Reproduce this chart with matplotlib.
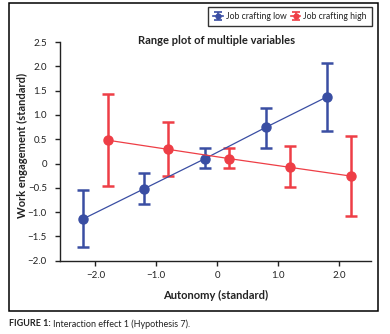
import matplotlib
matplotlib.use("Agg")
import matplotlib.pyplot as plt
from matplotlib.patches import Rectangle
from matplotlib.ticker import FixedLocator, FuncFormatter

plt.rcParams['font.family'] = ['Lato', 'DejaVu Sans']

# Data
x_low = [-2.2, -1.2, -0.2, 0.8, 1.8]
y_low = [-1.14, -0.52, 0.10, 0.745, 1.37]
low_upper = [-0.55, -0.19, 0.32, 1.14, 2.07]
low_lower = [-1.71, -0.83, -0.10, 0.32, 0.66]

x_high = [-1.8, -0.8, 0.2, 1.2, 2.2]
y_high = [0.48, 0.29, 0.10, -0.08, -0.26]
high_upper = [1.44, 0.85, 0.32, 0.35, 0.57]
high_lower = [-0.46, -0.25, -0.10, -0.48, -1.07]

xticks = [-2.0, -1.0, 0.0, 1.0, 2.0]
yticks = [-2.0, -1.5, -1.0, -0.5, 0.0, 0.5, 1.0, 1.5, 2.0, 2.5]
labels = ['Job crafting low', 'Job crafting high']

BLUE = '#3a4ea3'
RED = '#ee3e46'
DARK = '#222222'

W, H = 390, 334
fig = plt.figure(figsize=(W / 100, H / 100), dpi=100)
ax = fig.add_axes([60 / W, 1 - 260.7 / H, (370.7 - 60) / W, (260.7 - 42) / H])

def draw(x, y, lo, hi, color):
    yerr = [[yi - l for yi, l in zip(y, lo)], [h - yi for yi, h in zip(y, hi)]]
    return ax.errorbar(x, y, yerr=yerr, color=color, ecolor=color, elinewidth=1.8,
                       capsize=4, capthick=1.8, marker='o', markersize=6.5,
                       linewidth=0.9)

draw(x_low, y_low, low_lower, low_upper, BLUE)
draw(x_high, y_high, high_lower, high_upper, RED)

ax.set_xlim(-2.58, 2.52)
ax.set_ylim(-2.0, 2.5)
ax.xaxis.set_major_locator(FixedLocator(xticks))
ax.yaxis.set_major_locator(FixedLocator(yticks))

def fmt(v, pos):
    if abs(v) < 1e-9:
        return '0'
    s = f'{abs(v):.1f}'
    return ('\u2212' + s) if v < 0 else s

ax.xaxis.set_major_formatter(FuncFormatter(fmt))
ax.yaxis.set_major_formatter(FuncFormatter(fmt))
ax.tick_params(labelsize=7, length=3.5, width=1, color=DARK, labelcolor=DARK, pad=6)
ax.tick_params(axis='x', pad=4)
for s in ['top', 'right']:
    ax.spines[s].set_visible(False)
for s in ['left', 'bottom']:
    ax.spines[s].set_linewidth(1.0)
    ax.spines[s].set_color(DARK)

ax.set_xlabel('Autonomy (standard)', fontsize=8, fontweight='bold', color=DARK)
ax.set_ylabel('Work engagement (standard)', fontsize=8, fontweight='bold', color=DARK)
ax.yaxis.set_label_coords(-38 / 310.7, (260.7 - 145) / 218.7)
ax.xaxis.set_label_coords(0.5, -(295 - 260.7) / 218.7)
ax.xaxis.label.set_va('center')
ax.yaxis.label.set_va('center')

fig.text(216.7 / W, 1 - 41 / H, 'Range plot of multiple variables', fontsize=8,
         fontweight='bold', ha='center', va='center', color=DARK)

# Outer frame
fig.add_artist(Rectangle((9 / W, 1 - 311 / H), (378 - 9) / W, (311 - 3) / H,
                         transform=fig.transFigure, fill=False, edgecolor='black', linewidth=1.1))

# Legend proxies (small markers as in the reference legend)
pax = fig.add_axes([0, 0, 0.01, 0.01])
pax.set_visible(False)
p1 = pax.errorbar([0], [0], yerr=[1], color=BLUE, elinewidth=1.2, capsize=3, capthick=1.2,
                  marker='o', markersize=3.5, linewidth=1.2)
p2 = pax.errorbar([0], [0], yerr=[1], color=RED, elinewidth=1.2, capsize=3, capthick=1.2,
                  marker='o', markersize=3.5, linewidth=1.2)
leg = fig.legend(handles=[p1, p2], labels=labels, loc='upper right',
                 bbox_to_anchor=(372 / W, 1 - 7 / H),
                 ncol=2, fontsize=6.2, frameon=True, fancybox=False, edgecolor='black',
                 handlelength=1.1, handletextpad=0.35, columnspacing=0.5, borderpad=0.6,
                 borderaxespad=0)
leg.get_frame().set_linewidth(1.0)
for t in leg.get_texts():
    t.set_color(DARK)

t1 = fig.text(9 / W, 1 - 324 / H, 'FIGURE 1: ', fontsize=6.5, fontweight='bold',
              ha='left', va='center', color=DARK)
ax.annotate('Interaction effect 1 (Hypothesis 7).', xy=(1, 0.5), xycoords=t1,
            fontsize=6.5, ha='left', va='center', color=DARK, annotation_clip=False)

fig.savefig('out.png', dpi=100)
